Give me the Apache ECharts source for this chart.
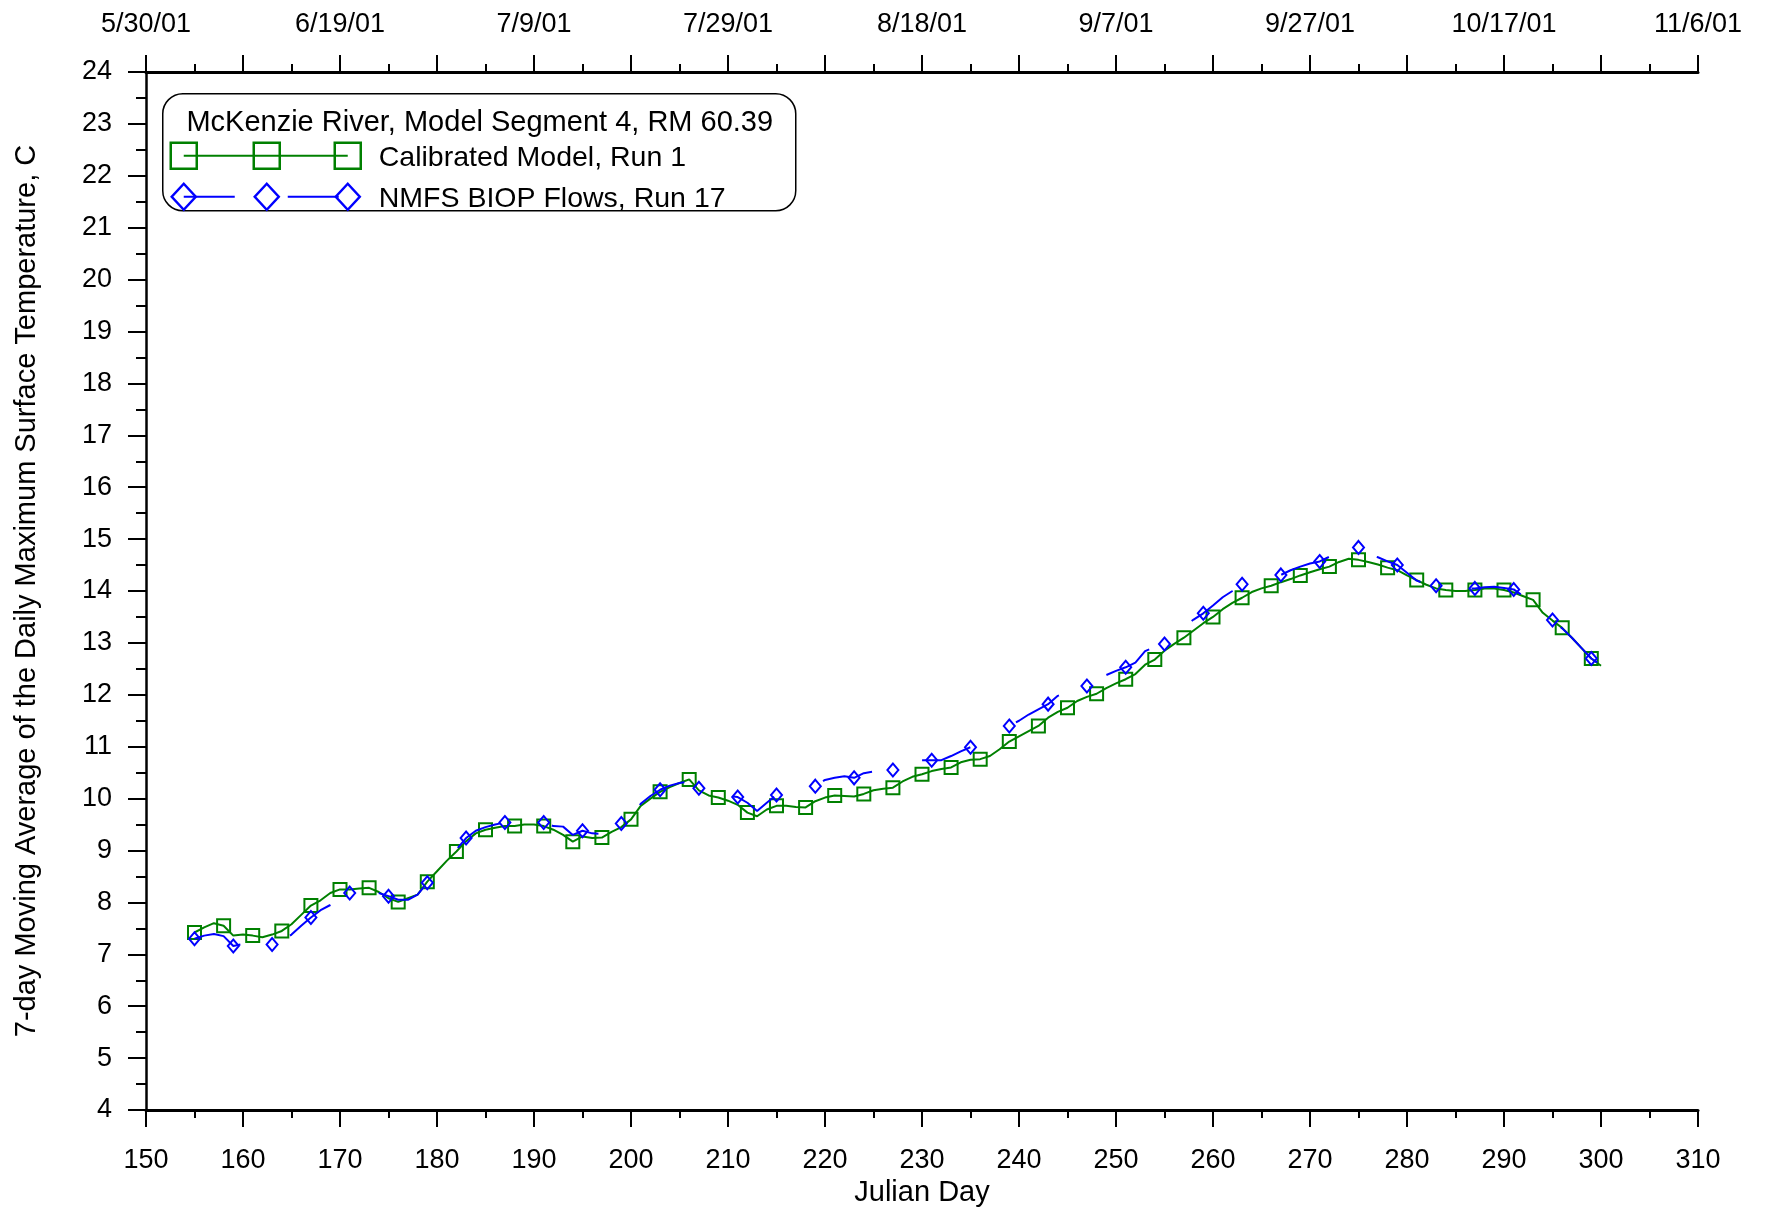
<!DOCTYPE html>
<html lang="en">

<head>
    <meta charset="UTF-8">
    <title>McKenzie River, Model Segment 4</title>
    <style>
        html, body { margin: 0; padding: 0; background: #fff; }
        #main { width: 1765px; height: 1208px; }
    </style>
</head>

<body>
    <div id="main"></div>
    <script src="https://cdn.jsdelivr.net/npm/echarts/dist/echarts.min.js"></script>
    <script>
    // first Julian day of both series (one value per day)
    var firstDay = 155;

    // Calibrated Model, Run 1 (days 155 - 300)
    var calibrated = [
        7.42, 7.52, 7.60, 7.55, 7.36, 7.38, 7.36, 7.33, 7.38, 7.45,
        7.58, 7.76, 7.94, 8.04, 8.18, 8.25, 8.25, 8.27, 8.28, 8.20,
        8.08, 8.01, 8.08, 8.15, 8.40, 8.60, 8.80, 8.98, 9.18, 9.33,
        9.40, 9.44, 9.47, 9.47, 9.50, 9.50, 9.47, 9.40, 9.30, 9.17,
        9.27, 9.24, 9.25, 9.36, 9.45, 9.60, 9.86, 10.00, 10.13, 10.22,
        10.30, 10.37, 10.16, 10.06, 10.02, 9.96, 9.88, 9.73, 9.66, 9.79,
        9.86, 9.86, 9.84, 9.83, 9.95, 10.02, 10.06, 10.05, 10.04, 10.09,
        10.16, 10.19, 10.21, 10.33, 10.42, 10.47, 10.53, 10.57, 10.60, 10.70,
        10.75, 10.76, 10.82, 10.95, 11.10, 11.20, 11.30, 11.40, 11.56, 11.67,
        11.75, 11.88, 11.96, 12.02, 12.13, 12.22, 12.30, 12.40, 12.58, 12.68,
        12.85, 12.98, 13.10, 13.24, 13.38, 13.50, 13.65, 13.77, 13.87, 13.98,
        14.05, 14.10, 14.17, 14.23, 14.30, 14.36, 14.42, 14.47, 14.56, 14.62,
        14.60, 14.56, 14.51, 14.45, 14.40, 14.30, 14.21, 14.12, 14.05, 14.02,
        14.00, 14.00, 14.02, 14.05, 14.05, 14.02, 13.97, 13.90, 13.83, 13.58,
        13.43, 13.29, 13.10, 12.90, 12.70, 12.56
    ];

    // NMFS BIOP Flows, Run 17 (days 155 - 300)
    var biop = [
        7.30, 7.36, 7.39, 7.35, 7.16, 7.20, 7.21, 7.19, 7.19, 7.25,
        7.38, 7.55, 7.71, 7.85, 7.95, 8.05, 8.18, 8.20, 8.22, 8.18,
        8.12, 8.05, 8.05, 8.15, 8.38, 8.60, 8.80, 9.02, 9.24, 9.38,
        9.45, 9.50, 9.54, 9.52, 9.52, 9.55, 9.54, 9.47, 9.46, 9.30,
        9.38, 9.33, 9.32, 9.42, 9.52, 9.65, 9.90, 10.05, 10.17, 10.25,
        10.30, 10.33, 10.20, 10.12, 10.08, 10.05, 10.03, 9.92, 9.76, 9.92,
        10.07, 10.10, 10.15, 10.20, 10.24, 10.36, 10.40, 10.43, 10.40, 10.49,
        10.52, 10.54, 10.55, 10.60, 10.70, 10.74, 10.74, 10.74, 10.82, 10.91,
        10.99, 11.08, 11.18, 11.30, 11.40, 11.50, 11.62, 11.72, 11.82, 11.98,
        12.05, 12.10, 12.17, 12.25, 12.38, 12.46, 12.53, 12.62, 12.84, 12.92,
        12.98, 13.10, 13.30, 13.45, 13.57, 13.72, 13.88, 14.00, 14.13, 14.20,
        14.25, 14.28, 14.31, 14.40, 14.47, 14.53, 14.57, 14.66, 14.75, 14.80,
        14.84, 14.72, 14.65, 14.57, 14.50, 14.35, 14.20, 14.13, 14.10, 14.05,
        14.04, 14.05, 14.05, 14.07, 14.08, 14.06, 14.03, 13.90, 13.75, 13.55,
        13.44, 13.28, 13.10, 12.90, 12.70, 12.58
    ];

    // days that carry a marker
    var calibratedMarks = [155, 158, 161, 164, 167, 170, 173, 176, 179, 182, 185, 188, 191, 194, 197, 200,
        203, 206, 209, 212, 215, 218, 221, 224, 227, 230, 233, 236, 239, 242, 245, 248, 251, 254, 257,
        260, 263, 266, 269, 272, 275, 278, 281, 284, 287, 290, 293, 296, 299];
    var biopMarks = [155, 159, 163, 167, 171, 175, 179, 183, 187, 191, 195, 199, 203, 207, 211, 215,
        219, 223, 227, 231, 235, 239, 243, 247, 251, 255, 259, 263, 267, 271, 275, 279, 283, 287, 291,
        295, 299];

    // top axis dates
    var topTickDays = [150, 170, 190, 210, 230, 250, 270, 290, 310];
    var topTickLabels = ['5/30/01', '6/19/01', '7/9/01', '7/29/01', '8/18/01', '9/7/01', '9/27/01', '10/17/01', '11/6/01'];

    var green = '#008000';
    var blue = '#0000ff';
    var font = "'Liberation Sans', Arial, sans-serif";

    function pairs(values) {
        return values.map(function(v, i) { return [firstDay + i, v]; });
    }

    var myChart = echarts.init(document.getElementById('main'));

    var tickStyle = { color: '#000', width: 2 };
    var labelStyle = { color: '#000', fontSize: 27, fontFamily: font };

    var option = {
        animation: false,
        backgroundColor: '#fff',
        grid: { left: 146, right: 67, top: 72, bottom: 98, containLabel: false, outerBoundsMode: 'none' },
        xAxis: [{
            type: 'value',
            position: 'bottom',
            min: 150,
            max: 310,
            interval: 10,
            name: 'Julian Day',
            nameLocation: 'middle',
            nameGap: 67,
            nameTextStyle: { color: '#000', fontSize: 29, fontFamily: font },
            axisLine: { lineStyle: { color: '#000', width: 3 } },
            axisTick: { length: 17, lineStyle: tickStyle },
            minorTick: { show: true, splitNumber: 2, length: 8, lineStyle: tickStyle },
            splitLine: { show: false },
            axisLabel: Object.assign({ margin: 37 }, labelStyle)
        }, {
            type: 'value',
            position: 'top',
            min: 150,
            max: 310,
            interval: 10,
            axisLine: { lineStyle: { color: '#000', width: 3 } },
            axisTick: { length: 17, lineStyle: tickStyle },
            minorTick: { show: true, splitNumber: 2, length: 8, lineStyle: tickStyle },
            splitLine: { show: false },
            axisLabel: Object.assign({
                margin: 34,
                showMinLabel: true,
                showMaxLabel: true,
                formatter: function(v) {
                    var i = topTickDays.indexOf(v);
                    return i >= 0 ? topTickLabels[i] : '';
                }
            }, labelStyle)
        }],
        yAxis: {
            type: 'value',
            min: 4,
            max: 24,
            interval: 1,
            name: '7-day Moving Average of the Daily Maximum Surface Temperature, C',
            nameLocation: 'middle',
            nameGap: 105,
            nameTextStyle: { color: '#000', fontSize: 29, fontFamily: font },
            axisLine: { show: true, lineStyle: { color: '#000', width: 2.5 } },
            axisTick: { length: 18, lineStyle: tickStyle },
            minorTick: { show: true, splitNumber: 2, length: 10, lineStyle: tickStyle },
            splitLine: { show: false },
            axisLabel: Object.assign({ margin: 34 }, labelStyle)
        },
        series: [{
            name: 'Calibrated Model, Run 1',
            type: 'line',
            xAxisIndex: 0,
            data: pairs(calibrated),
            symbol: function(val) {
                return calibratedMarks.indexOf(val[0]) >= 0 ? 'rect' : 'none';
            },
            symbolSize: 13,
            lineStyle: { color: green, width: 2 },
            itemStyle: { color: 'rgba(0,0,0,0)', borderColor: green, borderWidth: 2 },
            emphasis: { disabled: true },
            z: 2
        }, {
            name: 'NMFS BIOP Flows, Run 17',
            type: 'line',
            xAxisIndex: 0,
            data: pairs(biop),
            symbol: function(val) {
                return biopMarks.indexOf(val[0]) >= 0 ? 'diamond' : 'none';
            },
            symbolSize: [11, 13],
            lineStyle: { color: blue, width: 2, type: [51, 52], dashOffset: 0 },
            itemStyle: { color: 'rgba(0,0,0,0)', borderColor: blue, borderWidth: 2 },
            emphasis: { disabled: true },
            z: 3
        }],
        // legend box drawn by hand
        graphic: [{
            type: 'group',
            left: 162,
            top: 93,
            children: [{
                type: 'rect',
                shape: { x: 0, y: 0, width: 633, height: 117, r: 20 },
                style: { fill: '#fff', stroke: '#000', lineWidth: 1.5 }
            }, {
                type: 'text',
                style: {
                    x: 317, y: 29, text: 'McKenzie River, Model Segment 4, RM 60.39',
                    fill: '#000', font: '29px ' + font, textAlign: 'center', textVerticalAlign: 'middle'
                }
            }, {
                type: 'line',
                shape: { x1: 21, y1: 62, x2: 185, y2: 62 },
                style: { stroke: green, lineWidth: 2 }
            }, {
                type: 'rect', shape: { x: 8, y: 49, width: 26, height: 26 },
                style: { fill: 'none', stroke: green, lineWidth: 2.5 }
            }, {
                type: 'rect', shape: { x: 91, y: 49, width: 26, height: 26 },
                style: { fill: 'none', stroke: green, lineWidth: 2.5 }
            }, {
                type: 'rect', shape: { x: 172, y: 49, width: 26, height: 26 },
                style: { fill: 'none', stroke: green, lineWidth: 2.5 }
            }, {
                type: 'text',
                style: {
                    x: 216, y: 64, text: 'Calibrated Model, Run 1',
                    fill: '#000', font: '28.5px ' + font, textVerticalAlign: 'middle'
                }
            }, {
                type: 'line',
                shape: { x1: 21, y1: 103, x2: 185, y2: 103 },
                style: { stroke: blue, lineWidth: 2, lineDash: [51, 53] }
            }, {
                type: 'polygon', shape: { points: [[21, 90], [33, 103], [21, 116], [9, 103]] },
                style: { fill: 'none', stroke: blue, lineWidth: 2.5 }
            }, {
                type: 'polygon', shape: { points: [[104, 90], [116, 103], [104, 116], [92, 103]] },
                style: { fill: 'none', stroke: blue, lineWidth: 2.5 }
            }, {
                type: 'polygon', shape: { points: [[185, 90], [197, 103], [185, 116], [173, 103]] },
                style: { fill: 'none', stroke: blue, lineWidth: 2.5 }
            }, {
                type: 'text',
                style: {
                    x: 216, y: 105, text: 'NMFS BIOP Flows, Run 17',
                    fill: '#000', font: '28.5px ' + font, textVerticalAlign: 'middle'
                }
            }]
        }]
    };

    myChart.setOption(option);
    </script>
</body>

</html>
